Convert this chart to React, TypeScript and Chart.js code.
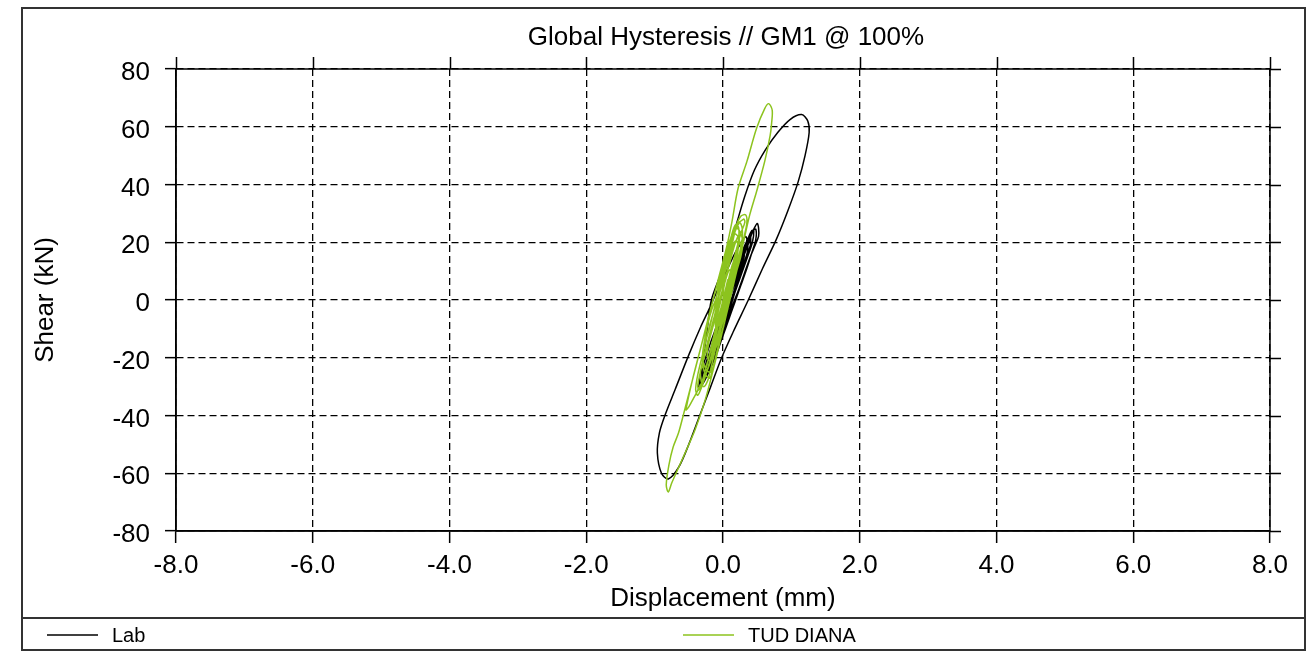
import React, { useEffect, useRef } from 'react';
import { Chart, registerables } from 'chart.js';

Chart.register(...registerables);

const chartTitle = 'Global Hysteresis // GM1 @ 100%';
const xAxisTitle = 'Displacement (mm)';
const yAxisTitle = 'Shear (kN)';
const seriesNames = ['Lab', 'TUD DIANA'];
const seriesColors = ['#000000', '#8cc31e'];
const xRange = [-8, 8];
const yRange = [-80, 80];
const xStep = 2;
const yStep = 20;

// Lab (black) – displacement (mm)
const labDisp = [
  0, 0.07, 0.12, 0.18, 0.23, 0.22, 0.17, 0.11, 0.04, -0.02, -0.07, -0.05, -0.02, 0.05,
  0.12, 0.19, 0.27, 0.33, 0.36, 0.36, 0.31, 0.23, 0.16, 0.09, 0.01, -0.07, -0.14, -0.2, -0.18, -0.12, -0.06, 0.01, 0.06,
  0.13, 0.2, 0.28, 0.36, 0.42, 0.45, 0.43, 0.36, 0.27, 0.18, 0.1, 0.01, -0.08, -0.17, -0.25, -0.3, -0.3, -0.25, -0.17, -0.09, -0.01, 0.06,
  0.14, 0.22, 0.3, 0.37, 0.4, 0.4, 0.33, 0.24, 0.15, 0.06, -0.04, -0.13, -0.21, -0.27, -0.26, -0.2, -0.12, -0.04, 0.04,
  0.12, 0.21, 0.3, 0.38, 0.44, 0.48, 0.48, 0.43, 0.35, 0.26, 0.17, 0.08, -0.01, -0.1, -0.19, -0.27, -0.32, -0.33, -0.28, -0.2, -0.11, -0.03, 0.04,
  0.1, 0.18, 0.25, 0.3, 0.31, 0.26, 0.18, 0.1, 0.02, -0.06, -0.14, -0.21, -0.23, -0.2, -0.13, -0.05, 0.02, 0.06,
  0.13, 0.22, 0.31, 0.39, 0.45, 0.5, 0.52, 0.52, 0.47, 0.4, 0.31, 0.22, 0.12, 0.02, -0.08, -0.17, -0.26, -0.33, -0.36,
  -0.3, -0.24, -0.17, 0.0, 0.18, 0.32, 0.46, 0.62, 0.8, 0.98, 1.15, 1.24, 1.26, 1.2, 1.1, 0.95, 0.78, 0.58, 0.37, 0.15, -0.02, -0.18, -0.34, -0.5, -0.65, -0.8, -0.9, -0.96, -0.93, -0.85, -0.7, -0.5, -0.33,
  -0.2, -0.07, 0.05, 0.17, 0.27, 0.33, 0.35, 0.32, 0.25, 0.17, 0.08, 0, -0.09, -0.17, -0.24, -0.27, -0.25, -0.18, -0.1, -0.02, 0.06, 0.14, 0.21, 0.27, 0.29, 0.27, 0.2, 0.12, 0.04, -0.04, -0.11, -0.15, -0.12, -0.06, 0.01, 0.08, 0.15, 0.19, 0.16, 0.1, 0.04, -0.01, -0.03, 0, 0.03,
];
// Lab (black) – shear (kN)
const labShear = [
  0, 3, 5, 9, 10, 7, 3, -1, -5, -9, -10, -8, -5, 0,
  5, 10, 15, 18, 19.5, 17, 13, 8, 3, -2, -8, -13, -17, -19.5, -17, -13, -8, -3, 0,
  7, 12, 17, 21, 24, 24, 20, 15, 9, 3, -3, -9, -15, -21, -26, -28.5, -26, -22, -17, -11, -5, 1,
  6, 12, 17, 21, 22.5, 19, 14, 8, 2, -4, -11, -17, -22, -26, -23, -19, -13, -7, -1,
  3, 9, 15, 20, 24, 24.5, 21, 17, 11, 5, -1, -7, -13, -19, -24, -28, -29.5, -27, -22, -16, -10, -4, 1,
  4, 9, 14, 17, 15, 11, 6, 1, -5, -11, -17, -21, -22, -19, -14, -8, -2, 0,
  4, 10, 16, 21, 24.5, 26.5, 25, 22, 19, 15, 9, 3, -3, -10, -16, -22, -27, -30, -31,
  -22, -12, 0, 11, 25, 36, 45, 52, 58, 62.5, 64.2, 62, 58, 50, 41, 31, 21, 11, 0, -11, -20, -30, -40, -50, -58, -62, -60, -53, -46, -40, -31, -19, -9.5,
  -3, 4, 10, 16, 20, 22, 21, 17, 12, 6, 0, -6, -13, -19, -24, -25, -22, -17, -11, -5, 1, 7, 12, 16, 17, 14, 9, 3, -3, -9, -14, -16, -13, -8, -3, 2, 7, 9, 7, 3, -1, -4, -5, -3, -1,
];

// TUD DIANA (green) – displacement (mm)
const tudDisp = [
  0, 0.01, 0.05, 0.1, 0.11, 0.07, 0.03, -0.01, -0.05, -0.1, -0.11, -0.07, -0.03,
  0.0, 0.06, 0.11, 0.15, 0.19, 0.22, 0.21, 0.155, 0.1, 0.05, 0.0, -0.055, -0.11, -0.15, -0.2, -0.23, -0.21, -0.155, -0.1, -0.05,
  -0.07, -0.02, 0.035, 0.09, 0.14, 0.18, 0.24, 0.28, 0.28, 0.23, 0.175, 0.12, 0.07, 0.017, -0.035, -0.09, -0.14, -0.19, -0.225, -0.28, -0.32, -0.33, -0.28, -0.23, -0.175, -0.12, -0.07,
  -0.05, 0.005, 0.06, 0.11, 0.18, 0.24, 0.29, 0.26, 0.2, 0.15, 0.1, 0.05, -0.005, -0.06, -0.11, -0.19, -0.25, -0.3, -0.26, -0.2, -0.15, -0.1,
  -0.07, -0.02, 0.04, 0.09, 0.16, 0.22, 0.26, 0.23, 0.18, 0.12, 0.06, 0.0, -0.06, -0.12, -0.18, -0.25, -0.3, -0.27, -0.22, -0.16, -0.11,
  -0.05, 0.0, 0.06, 0.12, 0.18, 0.23, 0.22, 0.16, 0.1, 0.04, -0.03, -0.1, -0.17, -0.24, -0.31, -0.37, -0.4, -0.37, -0.3, -0.22, -0.15, -0.08,
  -0.03, 0.025, 0.08, 0.13, 0.18, 0.26, 0.33, 0.35, 0.31, 0.24, 0.185, 0.13, 0.08, 0.03, -0.03, -0.08, -0.16, -0.24, -0.34, -0.43, -0.5, -0.54,
  -0.45, -0.32, -0.2, -0.06, 0.05, 0.13, 0.22, 0.35, 0.49, 0.61, 0.67, 0.72, 0.71, 0.69, 0.61, 0.49, 0.39, 0.28, 0.15, 0.02, -0.12, -0.26, -0.41, -0.6, -0.75, -0.8, -0.83, -0.79, -0.73, -0.65, -0.56, -0.45, -0.32, -0.18, -0.04, 0.1, 0.22, 0.3, 0.32,
  0.26, 0.18, 0.1, 0.02, -0.06, -0.14, -0.22, -0.29, -0.34, -0.37, -0.35, -0.3, -0.22, -0.14, -0.06, 0.02, 0.1, 0.17, 0.22, 0.24, 0.21, 0.15, 0.08, 0.0, -0.08, -0.16, -0.22, -0.25, -0.22, -0.16, -0.09, -0.02, 0.05, 0.11, 0.15, 0.14, 0.09, 0.03, -0.03, -0.09, -0.13, -0.12, -0.07, -0.02, 0.03, 0.07, 0.06, 0.02, -0.02, -0.05, -0.04, -0.01,
];
// TUD DIANA (green) – shear (kN)
const tudShear = [
  0, 4, 8, 10.5, 8, 4, 0, -4, -8, -10, -8, -4, 0,
  5, 10, 15, 19, 20.5, 19, 15, 10, 5, 0, -5, -10, -15, -19, -21, -19.5, -15, -10, -5, 0,
  0, 5, 10, 15, 20, 24, 27, 25, 21, 15, 10, 5, 0, -5, -10, -15, -20, -25, -28, -30, -28, -25, -20, -15, -10, -5, 0,
  5, 10, 15, 20, 25, 24, 20, 15, 10, 5, 0, -5, -10, -15, -20, -27, -26, -22, -15, -10, -5, 0,
  5, 10, 15, 20, 23, 22, 18, 13, 8, 2, -4, -10, -16, -21, -25, -24, -20, -14, -8, -3, 0,
  5, 10, 16, 22, 26, 25, 20, 14, 8, 2, -5, -12, -19, -25, -30, -33, -31, -26, -19, -11, -5, 0,
  5, 10, 15, 20, 25, 29, 29.5, 27, 22, 15, 10, 5, 0, -5, -10, -15, -20, -25, -30, -34, -37, -38,
  -28, -16, -5, 8, 18, 27, 38.6, 48, 59.4, 66.3, 68, 65.7, 61, 57, 48, 37.5, 29.4, 18, 5, -8, -22, -34.6, -45, -55.4, -63.4, -66.5, -64, -57, -51, -46, -38, -28, -16, -3, 9, 19, 26, 28, 27,
  23, 16, 8, 0, -7, -14, -21, -27, -31, -30, -27, -22, -15, -8, -1, 6, 13, 19, 22, 21, 17, 11, 5, -2, -9, -16, -21, -23, -21, -15, -8, -2, 4, 10, 13, 11, 7, 2, -3, -8, -12, -11, -6, -2, 3, 7, 6, 2, -2, -5, -4, -1,
];

const FONT = "'Liberation Sans', Arial, Helvetica, sans-serif";

const zip = (xs: number[], ys: number[]) => xs.map((x, i) => ({ x, y: ys[i] }));

const decorPlugin = {
  id: 'decor',
  afterDraw(chart: any) {
    const { ctx, chartArea: a, scales } = chart;
    const W = chart.width;
    ctx.save();
    ctx.setLineDash([]);
    // plot border
    ctx.strokeStyle = '#000';
    ctx.lineWidth = 1.5;
    ctx.strokeRect(a.left, a.top, a.right - a.left, a.bottom - a.top);
    // mirrored ticks on right and top
    ctx.beginPath();
    scales.y.ticks.forEach((t: any) => {
      const py = Math.round(scales.y.getPixelForValue(t.value)) + 0.5;
      ctx.moveTo(a.right, py);
      ctx.lineTo(a.right + 11, py);
    });
    scales.x.ticks.forEach((t: any) => {
      const px = Math.round(scales.x.getPixelForValue(t.value)) + 0.5;
      ctx.moveTo(px, a.top);
      ctx.lineTo(px, a.top - 12);
    });
    ctx.stroke();
    // title
    ctx.fillStyle = '#000';
    ctx.font = `26px ${FONT}`;
    ctx.textAlign = 'center';
    ctx.textBaseline = 'middle';
    ctx.fillText(chartTitle, (a.left + a.right) / 2 + 3, 38);
    // outer frame and legend separator
    ctx.strokeStyle = '#333';
    ctx.lineWidth = 2;
    ctx.strokeRect(22, 8, W - 23, 642);
    ctx.beginPath();
    ctx.moveTo(22, 618);
    ctx.lineTo(W - 1, 618);
    ctx.stroke();
    // legend
    const legendX = [47, 683];
    ctx.font = `20px ${FONT}`;
    ctx.textAlign = 'left';
    seriesNames.forEach((name, i) => {
      const lx = legendX[i];
      ctx.strokeStyle = seriesColors[i];
      ctx.lineWidth = 1.5;
      ctx.beginPath();
      ctx.moveTo(lx, 635);
      ctx.lineTo(lx + 51, 635);
      ctx.stroke();
      ctx.fillStyle = '#000';
      ctx.fillText(name, lx + 65, 636);
    });
    ctx.restore();
  },
};

export default function App() {
  const ref = useRef<HTMLCanvasElement>(null);
  useEffect(() => {
    if (!ref.current) return;
    const tickFont = { family: FONT, size: 26 };
    const chart = new Chart(ref.current, {
      type: 'scatter',
      data: {
        datasets: [
          {
            label: seriesNames[1],
            data: zip(tudDisp, tudShear),
            showLine: true,
            borderColor: seriesColors[1],
            backgroundColor: seriesColors[1],
            borderWidth: 1.5,
            pointRadius: 0,
            tension: 0.3,
            fill: false,
          },
          {
            label: seriesNames[0],
            data: zip(labDisp, labShear),
            showLine: true,
            borderColor: seriesColors[0],
            backgroundColor: seriesColors[0],
            borderWidth: 1.5,
            pointRadius: 0,
            tension: 0.3,
            fill: false,
          },
        ],
      },
      options: {
        responsive: false,
        animation: false,
        events: [],
        layout: { padding: { top: 69, right: 36, bottom: 34, left: 0 } },
        plugins: {
          legend: { display: false },
          title: { display: false },
          tooltip: { enabled: false },
        },
        scales: {
          x: {
            type: 'linear',
            min: xRange[0],
            max: xRange[1],
            ticks: {
              stepSize: xStep,
              autoSkip: false,
              maxRotation: 0,
              color: '#000',
              font: tickFont,
              padding: 7,
              callback: (v: any) => Number(v).toFixed(1),
            },
            grid: {
              color: '#000',
              lineWidth: 1.3,
              drawTicks: true,
              tickLength: 12,
              tickColor: '#000',
              tickWidth: 1.5,
              tickBorderDash: [],
            } as any,
            border: { display: true, color: '#000', width: 1.5, dash: [7, 4] },
            title: {
              display: true,
              text: xAxisTitle,
              color: '#000',
              font: tickFont,
              padding: { top: 0, bottom: 4 },
            },
            afterFit: (s: any) => {
              s.height = 87;
            },
          },
          y: {
            type: 'linear',
            min: yRange[0],
            max: yRange[1],
            ticks: {
              stepSize: yStep,
              autoSkip: false,
              color: '#000',
              font: tickFont,
              padding: 15,
              labelOffset: 4,
            },
            grid: {
              color: '#000',
              lineWidth: 1.3,
              drawTicks: true,
              tickLength: 11,
              tickColor: '#000',
              tickWidth: 1.5,
              tickBorderDash: [],
            } as any,
            border: { display: true, color: '#000', width: 1.5, dash: [7, 4] },
            title: {
              display: true,
              text: yAxisTitle,
              color: '#000',
              font: tickFont,
              padding: { top: 30, bottom: 0 },
            },
            afterFit: (s: any) => {
              s.width = 176;
            },
          },
        },
      },
      plugins: [decorPlugin],
    });
    return () => chart.destroy();
  }, []);
  return (
    <canvas
      ref={ref}
      width={1306}
      height={652}
      style={{ position: 'absolute', left: 0, top: 0, display: 'block', background: '#fff' }}
    />
  );
}
